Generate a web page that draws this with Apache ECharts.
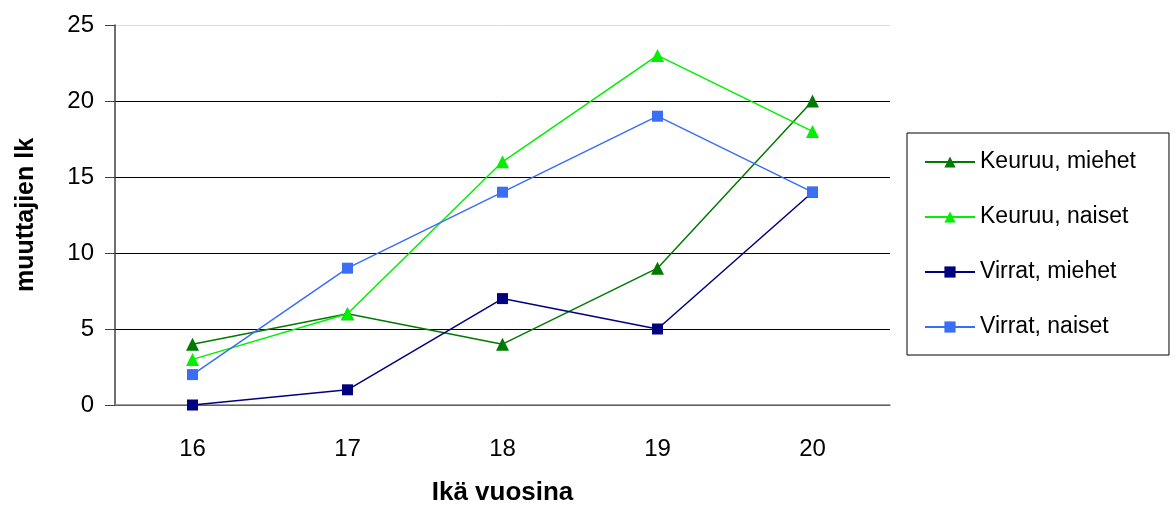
<!DOCTYPE html>
<html>
<head>
<meta charset="utf-8">
<script src="https://cdn.jsdelivr.net/npm/echarts@6/dist/echarts.min.js"></script>
<style>
  html, body { margin: 0; padding: 0; background: #fff; }
  #main { width: 1176px; height: 507px; }
</style>
</head>
<body>
<div id="main"></div>
<script>
var ages = ["16", "17", "18", "19", "20"];
var keuruuMiehet = [4, 6, 4, 9, 20];
var keuruuNaiset = [3, 6, 16, 23, 18];
var virratMiehet = [0, 1, 7, 5, 14];
var virratNaiset = [2, 9, 14, 19, 14];

var font = "Liberation Sans, Arial, sans-serif";

function line(name, data, color, symbol, size) {
  return {
    name: name,
    type: "line",
    data: data,
    symbol: symbol,
    symbolSize: size,
    showAllSymbol: true,
    lineStyle: { color: color, width: 1.5 },
    itemStyle: { color: color },
    emphasis: { disabled: true },
    animation: false
  };
}

var chart = echarts.init(document.getElementById("main"));
chart.setOption({
  backgroundColor: "#fff",
  textStyle: { fontFamily: font },
  grid: { left: 115, right: 286, top: 25, bottom: 102, outerBoundsMode: "none", containLabel: false },
  legend: {
    orient: "vertical",
    left: 907,
    top: 133,
    padding: [17, 33, 16, 17],
    itemGap: 31,
    itemWidth: 50,
    itemHeight: 14,
    borderColor: "#000",
    borderWidth: 1,
    textStyle: { fontSize: 23, lineHeight: 24, color: "#000", fontFamily: font },
    data: ["Keuruu, miehet", "Keuruu, naiset", "Virrat, miehet", "Virrat, naiset"]
  },
  xAxis: {
    type: "category",
    data: ages,
    boundaryGap: true,
    name: "Ikä vuosina",
    nameLocation: "middle",
    nameGap: 75,
    nameTextStyle: { fontSize: 26, fontWeight: "bold", color: "#000", fontFamily: font },
    axisLine: { lineStyle: { color: "#808080", width: 1.5 } },
    axisTick: { length: 8, lineStyle: { color: "#808080" } },
    axisLabel: { fontSize: 24, color: "#000", margin: 32, fontFamily: font }
  },
  yAxis: {
    type: "value",
    min: 0,
    max: 25,
    interval: 5,
    name: "muuttajien lk",
    nameLocation: "middle",
    nameGap: 76,
    nameTextStyle: { fontSize: 25, fontWeight: "bold", color: "#000", fontFamily: font },
    axisLine: { show: true, lineStyle: { color: "#404040", width: 1.5 } },
    axisTick: { show: true, length: 10, lineStyle: { color: "#404040" } },
    axisLabel: { fontSize: 24, color: "#000", margin: 21, fontFamily: font },
    splitLine: {
      lineStyle: { color: ["#000", "#000", "#000", "#000", "#000", "#ddd"], width: 1 }
    }
  },
  series: [
    line("Keuruu, miehet", keuruuMiehet, "#007a00", "triangle", 13),
    line("Keuruu, naiset", keuruuNaiset, "#00f000", "triangle", 13),
    line("Virrat, miehet", virratMiehet, "#000080", "rect", 11),
    line("Virrat, naiset", virratNaiset, "#3a6ef5", "rect", 11)
  ]
});
</script>
</body>
</html>
